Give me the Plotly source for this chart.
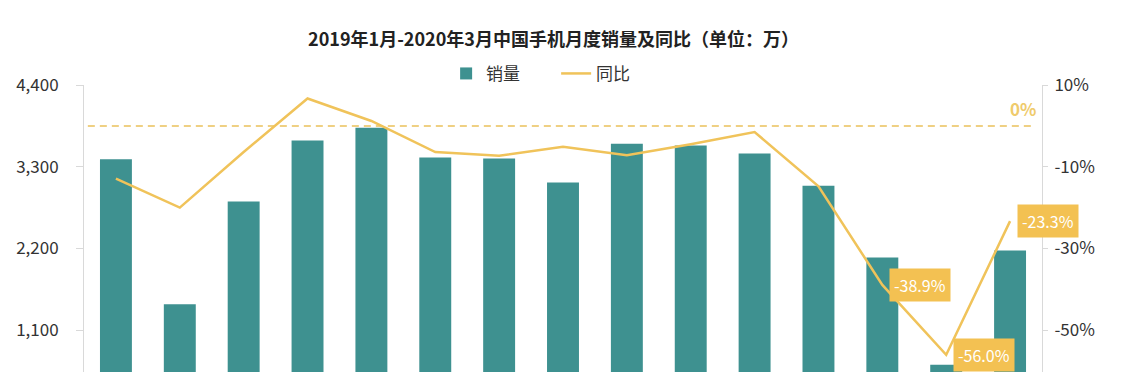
import plotly.graph_objects as go

# ---- data ----
months = ["2019-01", "2019-02", "2019-03", "2019-04", "2019-05", "2019-06",
          "2019-07", "2019-08", "2019-09", "2019-10", "2019-11", "2019-12",
          "2020-01", "2020-02", "2020-03"]
sales = [3400, 1449, 2832, 3652, 3826, 3423, 3410, 3088, 3611, 3585, 3477, 3045, 2080, 635, 2174]
yoy = [-12.9, -20.0, -6.4, 6.7, 1.2, -6.4, -7.3, -5.1, -7.2, -4.5, -1.5, -14.8, -38.9, -56.0, -23.3]
label_idx = [12, 13, 14]
left_ticks = [0, 1100, 2200, 3300, 4400]
right_ticks = [-70, -50, -30, -10, 10]
right_tick_text = [f"{v}%" for v in right_ticks]
title_text = "2019年1月-2020年3月中国手机月度销量及同比（单位：万）"

TEAL = "#3e9190"
YELLOW = "#f0c35a"
LABEL_BG = "#f3c152"
FONT = "Noto Sans CJK SC"
AXIS_C = "#d9d9d9"

fig = go.Figure()
fig.add_trace(go.Bar(x=months, y=sales, name="销量", marker=dict(color=TEAL, line=dict(width=0)),
                     yaxis="y"))
fig.add_trace(go.Scatter(x=months, y=yoy, name="同比", mode="lines",
                         line=dict(color=YELLOW, width=2.5), yaxis="y2"))

annotations = []
for i in label_idx:
    annotations.append(dict(x=months[i], y=yoy[i], xref="x", yref="y2",
                            text=f"{yoy[i]:.1f}%", showarrow=False,
                            xanchor="left", yanchor="middle", xshift=7,
                            bgcolor=LABEL_BG, borderpad=4,
                            font=dict(family=FONT, size=16, color="white")))
annotations.append(dict(x=0.996, y=0, xref="paper", yref="y2", text="<b>0%</b>",
                        showarrow=False, xanchor="right", yanchor="bottom", yshift=3,
                        font=dict(family=FONT, size=17, color="#efcb6c")))

fig.update_layout(
    width=1132, height=460,
    margin=dict(l=84, r=90, t=85, b=48),
    paper_bgcolor="white", plot_bgcolor="white",
    font=dict(family=FONT, color="#333333", size=17),
    title=dict(text="<b>" + title_text + "</b>", x=0.489, xref="container", xanchor="center",
               y=1 - 40 / 460, yref="container", yanchor="middle",
               font=dict(family=FONT, size=18, color="#222222")),
    bargap=0.5,
    showlegend=True,
    legend=dict(orientation="h", x=0.378, xanchor="left", y=1.034, yanchor="middle",
                font=dict(family=FONT, size=17, color="#333333"), itemwidth=30,
                entrywidth=65, entrywidthmode="pixels",
                bgcolor="rgba(0,0,0,0)"),
    xaxis=dict(type="category", range=[-0.5, len(months) - 0.5], autorange=False,
               showgrid=False, zeroline=False, showline=True, linecolor=AXIS_C,
               tickfont=dict(size=12), ticks="", tickangle=0, automargin=False),
    yaxis=dict(range=[0, 4400], tickvals=left_ticks, tickformat=",", showgrid=False,
               zeroline=False, showline=True, linecolor=AXIS_C, linewidth=1,
               ticks="outside", ticklen=7, tickcolor=AXIS_C, ticklabelstandoff=14,
               tickfont=dict(size=17, color="#333333"), automargin=False),
    yaxis2=dict(range=[-70, 10], tickvals=right_ticks, ticktext=right_tick_text,
                overlaying="y", side="right", showgrid=False, zeroline=False, showline=True,
                linecolor=AXIS_C, linewidth=1, ticks="outside", ticklen=5,
                tickcolor=AXIS_C, ticklabelstandoff=3, automargin=False,
                tickfont=dict(size=17, color="#333333")),
    shapes=[dict(type="line", xref="paper", yref="y2", x0=0.004, x1=0.9916, y0=0, y1=0,
                 line=dict(color="#efd083", width=2, dash="7px,5px"), layer="below")],
    annotations=annotations,
)

fig.write_html("out.html", config={"displayModeBar": False},
               post_script="document.body.style.margin='0';document.body.style.overflow='hidden';")
